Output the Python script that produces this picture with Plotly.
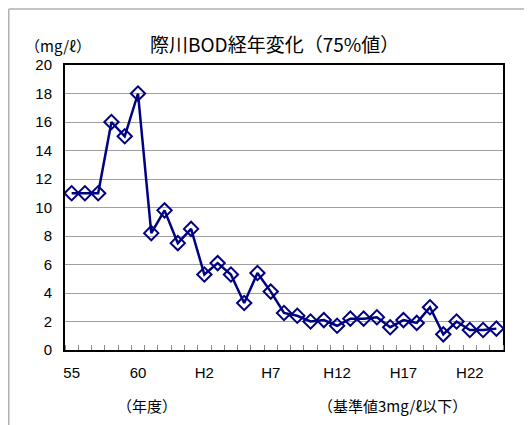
import plotly.graph_objects as go

# 年度 (昭和55〜63, 平成1〜24)
years = [str(y) for y in range(55, 64)] + ["H" + str(y) for y in range(1, 25)]
bod = [11, 11, 11, 16, 15, 18, 8.2, 9.8, 7.5, 8.5,
       5.3, 6.1, 5.3, 3.3, 5.4, 4.1, 2.6, 2.4, 2.0, 2.1,
       1.7, 2.2, 2.2, 2.3, 1.6, 2.1, 1.9, 3.0, 1.1, 2.0,
       1.4, 1.4, 1.5]
label_years = ["55", "60", "H2", "H7", "H12", "H17", "H22"]

pos = list(range(len(years)))
tick_pos = [years.index(y) for y in label_years]

num_font = "Liberation Sans, Arial, sans-serif"
jp_font = "Noto Sans CJK JP, sans-serif"
navy = "#000080"

fig = go.Figure()
fig.add_trace(
    go.Scatter(
        x=pos,
        y=bod,
        mode="lines+markers",
        line=dict(color=navy, width=2.5),
        marker=dict(symbol="diamond-open", size=11, color=navy,
                    line=dict(color=navy, width=2)),
        hoverinfo="y",
    )
)

# page body has an 8px margin, so the figure is 8px smaller than the window
fig.update_layout(
    width=524,
    height=417,
    margin=dict(l=57, r=29, t=57, b=75),
    paper_bgcolor="white",
    plot_bgcolor="white",
    showlegend=False,
    font=dict(family=num_font, size=15, color="black"),
    xaxis=dict(
        range=[-0.5, len(years) - 0.5],
        tickvals=tick_pos,
        ticktext=label_years,
        ticks="",
        ticklabelstandoff=8,
        showgrid=False,
        zeroline=False,
        showline=True,
        linecolor="black",
        linewidth=2,
        mirror=True,
        minor=dict(tick0=-0.5, dtick=1, ticks="inside", ticklen=5,
                   tickcolor="#888", showgrid=False),
    ),
    yaxis=dict(
        range=[0, 20],
        dtick=2,
        ticks="",
        ticklabelstandoff=8,
        showgrid=True,
        gridcolor="#a0a0a0",
        gridwidth=1,
        zeroline=False,
        showline=True,
        linecolor="black",
        linewidth=2,
        mirror=True,
    ),
)

fig.add_annotation(text="際川BOD経年変化（75%値）", xref="paper", yref="paper",
                   x=0.479, y=1.077, xanchor="center", yanchor="middle",
                   showarrow=False, font=dict(size=19, family=jp_font))
fig.add_annotation(text="（mg/ℓ）", xref="paper", yref="paper",
                   x=-0.096, y=1.07, xanchor="left", yanchor="middle",
                   showarrow=False, font=dict(size=15, family=jp_font))
fig.add_annotation(text="（年度）", xref="paper", yref="paper",
                   x=0.187, y=-0.193, xanchor="center", yanchor="middle",
                   showarrow=False, font=dict(size=15, family=jp_font))
fig.add_annotation(text="（基準値3mg/ℓ以下）", xref="paper", yref="paper",
                   x=0.747, y=-0.193, xanchor="center", yanchor="middle",
                   showarrow=False, font=dict(size=15, family=jp_font))

# outer chart frame
fig.add_shape(type="line", xref="paper", yref="paper",
              x0=-0.1284, y0=1.1965, x1=1.2, y1=1.1965,
              line=dict(color="#b0b0b0", width=1.5))
fig.add_shape(type="line", xref="paper", yref="paper",
              x0=-0.1284, y0=1.1965, x1=-0.1284, y1=-0.4,
              line=dict(color="#b0b0b0", width=1.5))

fig.write_html("out.html")
